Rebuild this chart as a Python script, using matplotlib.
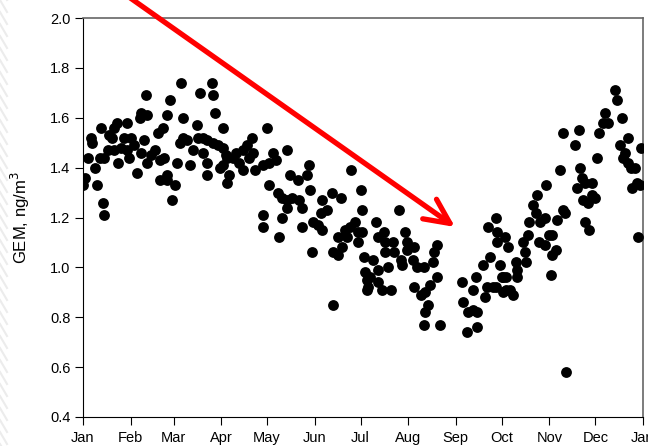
import matplotlib
matplotlib.use("Agg")
import matplotlib.pyplot as plt
from matplotlib.lines import Line2D

plt.rcParams['font.family'] = ['Liberation Sans', 'DejaVu Sans']

# Day of year and GEM concentration (ng/m3)
days = [1, 0, 3, 5, 6, 8, 9, 12, 11, 13, 14, 14, 17, 19, 16, 20, 22, 20, 23, 25,
        27, 31, 29, 29, 30, 33, 35, 37, 38, 42, 38, 40, 41, 44, 42, 47, 49, 52, 50, 50,
        53, 55, 55, 55, 57, 58, 60, 61, 63, 65, 68, 64, 65, 70, 72, 74, 76, 75, 78, 81,
        78, 81, 81, 84, 85, 86, 85, 88, 91, 89, 91, 94, 94,
        93, 91, 95, 98, 100, 102, 104, 104, 107, 110, 111, 108, 112, 120, 117, 121, 124, 126,
        133, 121, 127, 130, 133, 136, 135, 140, 146, 147, 141, 143, 148, 133, 130, 117, 117,
        128, 143, 150, 153, 156, 155, 159, 162, 168, 156, 149, 163, 166, 169, 166, 171, 174,
        177, 179, 172, 175, 181, 182, 179, 183, 184, 185, 185, 163,
        182, 191, 206, 192, 196, 197, 197, 202, 203, 207, 210, 211, 211, 216, 215, 187, 189,
        192, 199, 208, 186, 192, 195, 201, 218, 222, 231, 228, 229, 231, 216, 220, 223, 226,
        225, 223, 222, 233,
        247, 250, 257, 248, 251, 254, 257, 254, 256, 262, 263, 267, 261, 265, 272, 264, 269,
        270, 270, 275, 277, 274, 276,
        347, 348, 340, 351, 339, 342, 336, 313, 323, 321, 355, 350, 364, 353, 352, 355, 357,
        360, 335, 311, 324, 325, 327, 332, 322, 358, 361, 363, 302, 296, 293, 313, 326, 329,
        332, 334,
        295, 314, 291, 298, 301, 309, 327, 330, 362, 287, 290, 297, 301, 304, 306, 308, 306,
        288, 289, 282, 283, 283, 273, 276, 305, 269, 274, 278, 280, 315]
gem = [1.36, 1.33, 1.44, 1.52, 1.50, 1.40, 1.33, 1.56, 1.44, 1.26, 1.21, 1.44, 1.53, 1.52, 1.47, 1.47, 1.58, 1.56, 1.42, 1.48,
       1.52, 1.52, 1.58, 1.47, 1.44, 1.49, 1.38, 1.60, 1.62, 1.61, 1.46, 1.51, 1.69, 1.45, 1.42, 1.47, 1.54, 1.56, 1.43, 1.35,
       1.44, 1.37, 1.35, 1.61, 1.67, 1.27, 1.33, 1.42, 1.50, 1.52, 1.51, 1.74, 1.60, 1.41, 1.47, 1.57, 1.70, 1.52, 1.52, 1.51,
       1.46, 1.37, 1.42, 1.74, 1.69, 1.62, 1.50, 1.49, 1.48, 1.40, 1.56, 1.44, 1.34,
       1.45, 1.41, 1.37, 1.44, 1.46, 1.42, 1.39, 1.47, 1.49, 1.52, 1.46, 1.44, 1.39, 1.56, 1.41, 1.42, 1.46, 1.43,
       1.47, 1.33, 1.30, 1.28, 1.27, 1.28, 1.37, 1.35, 1.37, 1.41, 1.27, 1.24, 1.31, 1.24, 1.20, 1.21, 1.16,
       1.12, 1.16, 1.18, 1.17, 1.15, 1.22, 1.23, 1.30, 1.28, 1.27, 1.06, 1.06, 1.05, 1.08, 1.12, 1.15, 1.16,
       1.18, 1.14, 1.12, 1.39, 1.31, 1.23, 1.10, 1.04, 0.98, 0.95, 0.91, 0.85,
       1.14, 1.18, 1.23, 1.12, 1.14, 1.10, 1.06, 1.10, 1.06, 1.03, 1.14, 1.10, 1.07, 1.08, 1.03, 0.96, 1.03,
       0.99, 1.00, 1.01, 0.92, 0.94, 0.91, 0.91, 1.00, 1.00, 0.96, 1.02, 1.06, 1.09, 0.92, 0.89, 0.90, 0.93,
       0.85, 0.82, 0.77, 0.77,
       0.94, 0.74, 0.76, 0.86, 0.82, 0.83, 0.82, 0.91, 0.96, 0.88, 0.92, 0.92, 1.01, 1.04, 1.01, 1.16, 1.20,
       1.14, 1.10, 1.12, 1.08, 0.96, 0.91,
       1.71, 1.67, 1.62, 1.60, 1.58, 1.58, 1.54, 1.54, 1.55, 1.49, 1.52, 1.49, 1.48, 1.46, 1.44, 1.42, 1.40,
       1.40, 1.44, 1.39, 1.40, 1.36, 1.34, 1.34, 1.32, 1.32, 1.34, 1.33, 1.33, 1.29, 1.25, 1.23, 1.27, 1.26,
       1.29, 1.28,
       1.22, 1.22, 1.18, 1.18, 1.20, 1.19, 1.18, 1.15, 1.12, 1.10, 1.13, 1.10, 1.09, 1.13, 1.13, 1.07, 1.05,
       1.06, 1.02, 1.02, 0.99, 0.96, 0.96, 0.96, 0.97, 0.92, 0.90, 0.91, 0.89, 0.58]

month_starts = [0, 31, 59, 90, 120, 151, 181, 212, 243, 273, 304, 334, 365]
month_labels = ['Jan', 'Feb', 'Mar', 'Apr', 'May', 'Jun', 'Jul', 'Aug', 'Sep', 'Oct', 'Nov', 'Dec', 'Jan']
y_ticks = [0.4, 0.6, 0.8, 1.0, 1.2, 1.4, 1.6, 1.8, 2.0]

# arrow endpoints (day, value)
arrow_tail = (24, 2.11)
arrow_head = (242.5, 1.162)

fig = plt.figure(figsize=(6.48, 4.46), dpi=100)
ax = fig.add_axes([83/648, 1 - 417/446, 560/648, 399/446])

# faint watermark stripes at left edge
for i in range(-2, 40):
    y0 = 1 - i * 12 / 446
    fig.add_artist(Line2D([0, 7/648], [y0, y0 - 12/446], color='#ececec', lw=1.5,
                          transform=fig.transFigure))

ax.plot(days, gem, 'o', color='black', ms=7.8, mec='black', mew=0, zorder=3)

ax.set_xlim(0, 365)
ax.set_ylim(0.4, 2.0)
ax.set_xticks(month_starts)
ax.set_xticklabels(month_labels)
ax.set_yticks(y_ticks)
ax.set_yticklabels([f'{v:.1f}' for v in y_ticks])
ax.tick_params(axis='x', direction='out', length=6, width=0.8, labelsize=10.5, pad=4, top=False)
ax.tick_params(axis='y', direction='out', length=6, width=0.8, labelsize=10.5, pad=3, right=False)
ax.set_ylabel('GEM, ng/m$^3$', fontsize=12)
ax.yaxis.set_label_coords(-0.091, 0.5)

for s in ['left', 'bottom']:
    ax.spines[s].set_color('black')
    ax.spines[s].set_linewidth(0.8)
for s in ['top', 'right']:
    ax.spines[s].set_color('#666666')
    ax.spines[s].set_linewidth(1.2)

ax.annotate('', xy=arrow_head, xytext=arrow_tail, annotation_clip=False,
            arrowprops=dict(arrowstyle='->, head_length=1.8, head_width=0.86',
                            color='#ff0000', lw=3.8, shrinkA=0, shrinkB=0,
                            clip_on=False), zorder=4)

fig.savefig('out.png', dpi=100)
